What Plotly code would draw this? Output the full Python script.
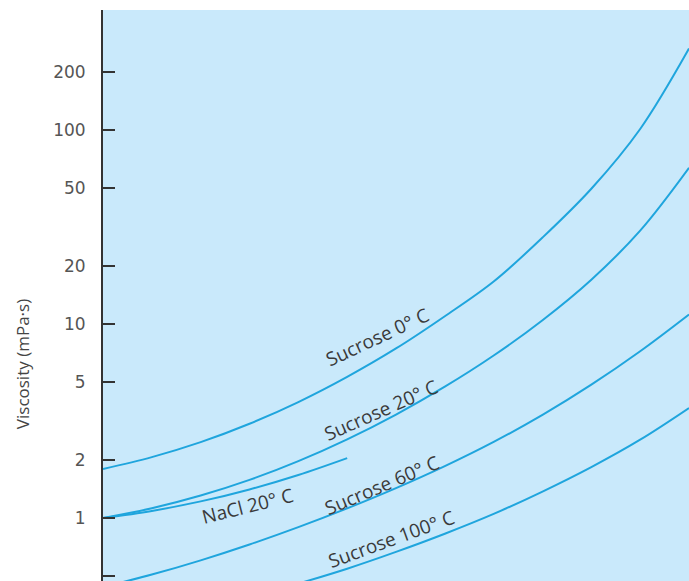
import plotly.graph_objects as go

# Concentration (% w/w) at which each curve is sampled
conc = [0, 5, 10, 15, 20, 25, 30, 35, 40, 45, 50, 55, 60]
conc_nacl = [0, 5, 10, 15, 20, 25]
conc_100 = [20, 25, 30, 35, 40, 45, 50, 55, 60]

# Viscosity (mPa·s)
sucrose_0c = [1.79, 2.06, 2.46, 3.06, 3.96, 5.34, 7.48, 10.97, 16.56, 27.9, 49.8, 101.2, 263.0]
sucrose_20c = [1.0, 1.123, 1.306, 1.572, 1.965, 2.545, 3.416, 4.753, 6.88, 10.46, 16.92, 30.27, 63.8]
nacl_20c = [1.0, 1.088, 1.218, 1.404, 1.666, 2.036]
sucrose_60c = [0.441, 0.511, 0.605, 0.730, 0.897, 1.121, 1.426, 1.852, 2.468, 3.400, 4.866, 7.233, 11.19]
sucrose_100c = [0.459, 0.548, 0.669, 0.830, 1.050, 1.369, 1.830, 2.533, 3.690]

tick_vals = [0.5, 1, 2, 5, 10, 20, 50, 100, 200]
tick_text = ["0.5", "1", "2", "5", "10", "20", "50", "100", "200"]

# Curve labels: text, concentration, log10 viscosity, angle
curve_labels = [
    ("Sucrose 0° C", 28.1, 0.932, -25),
    ("Sucrose 20° C", 28.5, 0.557, -24),
    ("NaCl 20° C", 14.8, 0.062, -14),
    ("Sucrose 60° C", 28.6, 0.170, -23),
    ("Sucrose 100° C", 29.5, -0.108, -20),
]

LINE = "#1fa5dd"
BG = "#c9e9fb"

fig = go.Figure()
for xs, ys in [(conc, sucrose_0c), (conc, sucrose_20c), (conc_nacl, nacl_20c),
               (conc, sucrose_60c), (conc_100, sucrose_100c)]:
    fig.add_trace(go.Scatter(x=xs, y=ys, mode="lines",
                             line=dict(color=LINE, width=2, shape="spline", smoothing=1.0),
                             showlegend=False, hoverinfo="skip"))

for text, x, y, ang in curve_labels:
    fig.add_annotation(x=x, y=y, text=text, showarrow=False, textangle=ang,
                       font=dict(family="Open Sans", size=19, color="#3a3a3a"))

fig.add_annotation(xref="paper", yref="paper", x=-0.138, y=(581 - 364) / 571,
                   text="Viscosity (mPa·s)", showarrow=False, textangle=-90,
                   xanchor="center", yanchor="middle",
                   font=dict(family="Open Sans", size=17, color="#444"))

fig.update_layout(
    width=689, height=581,
    margin=dict(l=103, r=0, t=10, b=0),
    paper_bgcolor="white",
    plot_bgcolor=BG,
    xaxis=dict(range=[0, 60], visible=False, showgrid=False, zeroline=False),
    yaxis=dict(type="log", range=[-0.3247, 2.6186],
               tickvals=tick_vals, ticktext=tick_text,
               ticks="inside", ticklen=12, tickwidth=2, tickcolor="#333",
               showline=True, linecolor="#333", linewidth=2,
               showgrid=False, zeroline=False,
               ticklabelstandoff=12,
               tickfont=dict(family="DejaVu Sans", size=17, color="#555")),
)

fig.write_html("out.html")
